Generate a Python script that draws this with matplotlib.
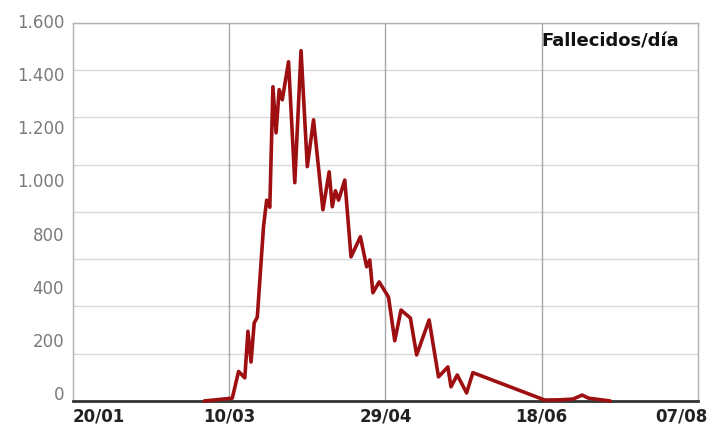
import numpy as np
import matplotlib.pyplot as plt
from matplotlib.transforms import ScaledTranslation

# daily deaths, vertices
dates = np.array([
    "2020-03-02", "2020-03-11", "2020-03-13", "2020-03-15", "2020-03-16",
    "2020-03-17", "2020-03-18", "2020-03-19", "2020-03-21", "2020-03-22",
    "2020-03-23", "2020-03-24", "2020-03-25", "2020-03-26", "2020-03-27",
    "2020-03-29", "2020-03-31", "2020-04-02", "2020-04-04", "2020-04-06",
    "2020-04-09", "2020-04-11", "2020-04-12", "2020-04-13", "2020-04-14",
    "2020-04-16", "2020-04-18", "2020-04-21", "2020-04-23", "2020-04-24",
    "2020-04-25", "2020-04-27", "2020-04-30", "2020-05-02", "2020-05-04",
    "2020-05-07", "2020-05-09", "2020-05-13", "2020-05-16", "2020-05-19",
    "2020-05-20", "2020-05-22", "2020-05-25", "2020-05-27", "2020-06-19",
    "2020-06-24", "2020-06-28", "2020-07-01", "2020-07-03", "2020-07-10",
], dtype="datetime64[D]")
deaths = [
    0, 12, 125, 98, 295,
    165, 330, 355, 740, 850,
    820, 1330, 1135, 1318, 1275,
    1436, 924, 1483, 992, 1190,
    809, 970, 822, 890, 850,
    935, 610, 695, 568, 597,
    458, 504, 440, 255, 385,
    351, 195, 343, 102, 144,
    60, 110, 34, 120, 4,
    5, 8, 25, 12, 0,
]

x_ticks = np.array(["2020-01-20", "2020-03-10", "2020-04-29", "2020-06-18", "2020-08-07"],
                   dtype="datetime64[D]")
x_labels = ["20/01", "10/03", "29/04", "18/06", "07/08"]
y_grid = np.arange(0, 1601, 200)
y_labels = ["0", "200", "400", "800", "1.000", "1.200", "1.400", "1.600"]

fig = plt.figure(figsize=(7.1, 4.32), dpi=100)
ax = fig.add_axes([0.1028, 0.0718, 0.880, 0.875])

ax.set_xlim(x_ticks[0], x_ticks[-1])
ax.set_ylim(0, 1600)

# horizontal grid
for yv in y_grid[1:]:
    ax.axhline(yv, color="#d9d9d9", lw=1.0, zorder=1)
# vertical grid at the inner date ticks
for xv in x_ticks[1:-1]:
    ax.axvline(xv, color="#a8a8a8", lw=1.0, zorder=1)

ax.plot(dates, deaths, color="#9e0f12", lw=2.6, solid_joinstyle="round",
        solid_capstyle="round", zorder=5, clip_on=False)

for s in ["left", "right", "top"]:
    ax.spines[s].set_color("#b0b0b0")
    ax.spines[s].set_linewidth(1.0)
ax.spines["bottom"].set_color("#333333")
ax.spines["bottom"].set_linewidth(2.0)

ax.set_yticks([])
ax.set_xticks(x_ticks)
ax.set_xticklabels(x_labels, fontsize=12, fontweight="bold", color="#222222")
ax.tick_params(axis="x", length=0, pad=5)
labs = ax.get_xticklabels()
labs[0].set_ha("left")
labs[-1].set_ha("right")
labs[-1].set_transform(labs[-1].get_transform() + ScaledTranslation(10 / 100, 0, fig.dpi_scale_trans))

# y labels are spread evenly down the axis, as in the original graphic
y_pos = np.linspace(25, 1600, len(y_labels))
for yp, lab in zip(y_pos, y_labels):
    ax.text(-0.014, yp, lab, transform=ax.get_yaxis_transform(), ha="right", va="center",
            fontsize=12, color="#7a7a7a")

ax.text(0.97, 0.95, "Fallecidos/día", transform=ax.transAxes, ha="right", va="center",
        fontsize=13, fontweight="heavy", color="#111111")

fig.savefig("out.png", dpi=100)
